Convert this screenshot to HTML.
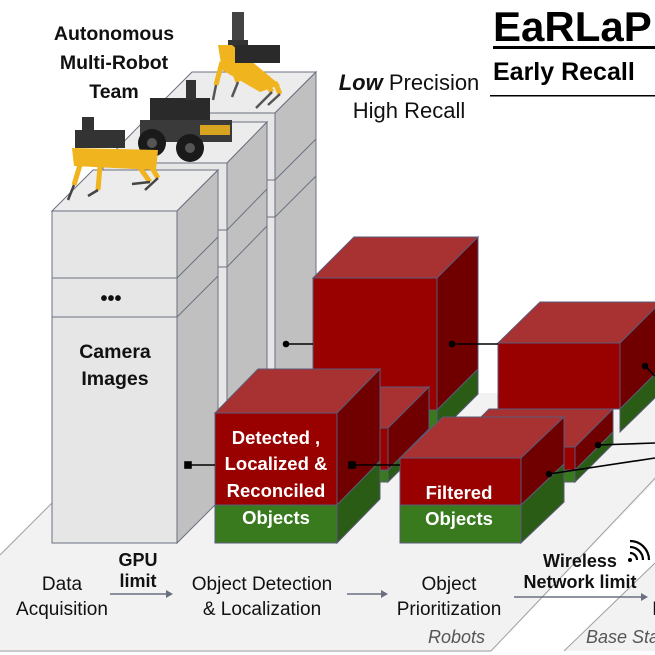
<!DOCTYPE html>
<html><head><meta charset="utf-8"><style>
html,body{margin:0;padding:0;background:#fff}
svg{display:block}
text{font-family:"Liberation Sans",sans-serif}
</style></head><body>
<svg width="655" height="655" viewBox="0 0 655 655" xmlns="http://www.w3.org/2000/svg">
<!-- planes -->
<polygon points="0,555 160,393 740,393 491,651 0,651" fill="#f2f2f2"/>
<line x1="0" y1="555" x2="60" y2="495" stroke="#a0a0a0" stroke-width="1"/>
<line x1="491" y1="651" x2="660" y2="473" stroke="#a0a0a0" stroke-width="1"/>
<polygon points="564,651 655,563 655,651" fill="#f2f2f2"/>
<line x1="564" y1="651" x2="655" y2="563" stroke="#a0a0a0" stroke-width="1"/>
<line x1="0" y1="651" x2="491" y2="651" stroke="#c8c8c8" stroke-width="2"/>

<g stroke="#6b7080" stroke-width="1">
<!-- back column -->
<polygon points="151,113 275,113 316,72 192,72" fill="#ececec"/>
<rect x="151" y="113" width="124" height="332" fill="#e6e6e6"/>
<polygon points="275,113 316,72 316,404 275,445" fill="#c0c0c0"/>
<line x1="151" y1="180" x2="275" y2="180"/><line x1="151" y1="217" x2="275" y2="217"/>
<line x1="275" y1="180" x2="316" y2="139"/><line x1="275" y1="217" x2="316" y2="176"/>
<!-- middle column -->
<polygon points="103,163 227,163 267,122 143,122" fill="#ececec"/>
<rect x="103" y="163" width="124" height="332" fill="#e6e6e6"/>
<polygon points="227,163 267,122 267,454 227,495" fill="#c0c0c0"/>
<line x1="103" y1="230" x2="227" y2="230"/><line x1="103" y1="267" x2="227" y2="267"/>
<line x1="227" y1="230" x2="267" y2="189"/><line x1="227" y1="267" x2="267" y2="226"/>
</g>

<!-- red boxes -->
<g stroke="#5a5a78" stroke-width="1">
<polygon points="313,278 437,278 478,237 354,237" fill="#a83232"/>
<rect x="313" y="278" width="124" height="132" fill="#990000"/>
<rect x="313" y="410" width="124" height="25" fill="#3a7a1e"/>
<polygon points="437,278 478,237 478,369 437,410" fill="#700000"/>
<polygon points="437,410 478,369 478,394 437,435" fill="#2b5c16"/>
<polygon points="498,343 620,343 661,302 540,302" fill="#a83232"/>
<rect x="498" y="343" width="122" height="66" fill="#990000"/>
<polygon points="620,343 661,302 661,368 620,409" fill="#700000"/>
<polygon points="620,409 661,368 661,392 620,432" fill="#2b5c16"/>
<polygon points="264,428 388,428 429,387 305,387" fill="#a83232"/>
<rect x="264" y="428" width="124" height="42" fill="#990000"/>
<rect x="264" y="470" width="124" height="12" fill="#3a7a1e"/>
<polygon points="388,428 429,387 429,429 388,470" fill="#700000"/>
<polygon points="388,470 429,429 429,441 388,482" fill="#2b5c16"/>
<polygon points="451,447 575,447 613,409 489,409" fill="#a83232"/>
<rect x="451" y="447" width="124" height="23" fill="#990000"/>
<rect x="451" y="470" width="124" height="12" fill="#3a7a1e"/>
<polygon points="575,447 613,409 613,432 575,470" fill="#700000"/>
<polygon points="575,470 613,432 613,444 575,482" fill="#2b5c16"/>
</g>

<!-- front column -->
<g stroke="#6b7080" stroke-width="1">
<polygon points="52,211 177,211 218,170 93,170" fill="#ececec"/>
<rect x="52" y="211" width="125" height="332" fill="#e6e6e6"/>
<polygon points="177,211 218,170 218,502 177,543" fill="#c0c0c0"/>
<line x1="52" y1="278" x2="177" y2="278"/><line x1="52" y1="317" x2="177" y2="317"/>
<line x1="177" y1="278" x2="218" y2="237"/><line x1="177" y1="317" x2="218" y2="276"/>
</g>

<g stroke="#5a5a78" stroke-width="1">
<polygon points="215,413 337,413 380,369 258,369" fill="#a83232"/>
<rect x="215" y="413" width="122" height="92" fill="#990000"/>
<rect x="215" y="505" width="122" height="38" fill="#3a7a1e"/>
<polygon points="337,413 380,369 380,461 337,505" fill="#700000"/>
<polygon points="337,505 380,461 380,499 337,543" fill="#2b5c16"/>
<polygon points="400,458 521,458 564,417 443,417" fill="#a83232"/>
<rect x="400" y="458" width="121" height="47" fill="#990000"/>
<rect x="400" y="505" width="121" height="38" fill="#3a7a1e"/>
<polygon points="521,458 564,417 564,464 521,505" fill="#700000"/>
<polygon points="521,505 564,464 564,502 521,543" fill="#2b5c16"/>
</g>

<!-- connectors -->
<g stroke="#000" stroke-width="1.6" fill="#000">
<line x1="188" y1="465" x2="215" y2="465"/><rect x="185" y="462" width="6" height="6"/>
<line x1="352" y1="465" x2="400" y2="465"/><rect x="349" y="462" width="6" height="6"/>
<line x1="286" y1="344" x2="313" y2="344"/><circle cx="286" cy="344" r="2.5"/>
<line x1="452" y1="344" x2="498" y2="344"/><circle cx="452" cy="344" r="2.5"/>
<line x1="598" y1="445" x2="655" y2="443"/><circle cx="598" cy="445" r="2.5"/>
<line x1="549" y1="474" x2="655" y2="458"/><circle cx="549" cy="474" r="2.5"/>
<line x1="645" y1="366" x2="655" y2="376"/><circle cx="645" cy="366" r="2.5"/>
</g>

<!-- robots (simplified) -->
<g>
<rect x="150" y="98" width="60" height="32" fill="#2a2a2a"/>
<rect x="140" y="120" width="92" height="22" fill="#3a3a3a"/>
<rect x="200" y="125" width="30" height="10" fill="#d9a520"/>
<circle cx="152" cy="143" r="14" fill="#1a1a1a"/><circle cx="190" cy="148" r="14" fill="#1a1a1a"/>
<circle cx="152" cy="143" r="5" fill="#555"/><circle cx="190" cy="148" r="5" fill="#555"/>
<rect x="186" y="80" width="10" height="20" fill="#333"/>
<rect x="75" y="130" width="50" height="18" fill="#333"/>
<polygon points="72,148 158,150 156,170 74,166" fill="#f0b41e"/>
<rect x="82" y="117" width="12" height="18" fill="#333"/>
<g stroke="#f0b41e" stroke-width="5" fill="none">
<polyline points="80,165 74,185"/><polyline points="100,166 98,190"/><polyline points="140,168 150,182"/><polyline points="152,168 158,178"/>
</g>
<g stroke="#444" stroke-width="2.5" fill="none">
<polyline points="74,185 68,200"/><polyline points="98,190 88,196"/><polyline points="150,182 132,184"/><polyline points="158,178 145,190"/>
</g>
<rect x="228" y="40" width="20" height="20" fill="#333"/>
<rect x="232" y="12" width="12" height="28" fill="#444"/>
<polygon points="218,45 232,45 262,70 280,85 260,92 222,70" fill="#f0b41e"/>
<rect x="235" y="45" width="45" height="18" fill="#2a2a2a"/>
<g stroke="#f0b41e" stroke-width="5" fill="none">
<polyline points="222,62 216,85"/><polyline points="232,66 238,82"/><polyline points="262,78 272,92"/><polyline points="275,82 280,94"/>
</g>
<g stroke="#555" stroke-width="2.5" fill="none">
<polyline points="216,85 213,100"/><polyline points="238,82 232,97"/><polyline points="272,92 256,108"/><polyline points="280,94 268,105"/>
</g>
</g>

<!-- text -->
<g font-weight="bold" font-size="19.5" text-anchor="middle" fill="#111">
<text x="114" y="40">Autonomous</text>
<text x="114" y="69">Multi-Robot</text>
<text x="114" y="98">Team</text>
<text x="111" y="305" font-size="20">•••</text>
<text x="115" y="358">Camera</text>
<text x="115" y="385">Images</text>
</g>
<g font-weight="bold" font-size="18.5" text-anchor="middle" fill="#fff">
<text x="276" y="444">Detected ,</text>
<text x="276" y="470">Localized  &amp;</text>
<text x="276" y="497">Reconciled</text>
<text x="276" y="524">Objects</text>
<text x="459" y="499">Filtered</text>
<text x="459" y="525">Objects</text>
</g>

<text x="493" y="41" font-size="42" font-weight="bold" fill="#000">EaRLaP</text>
<rect x="493" y="46" width="170" height="3" fill="#000"/>
<text x="493" y="80" font-size="25" font-weight="bold" fill="#000">Early Recall</text>
<rect x="490" y="95" width="170" height="1.5" fill="#000"/>

<text x="409" y="90" font-size="22" text-anchor="middle" fill="#111"><tspan font-weight="bold" font-style="italic">Low</tspan> Precision</text>
<text x="409" y="118" font-size="22" text-anchor="middle" fill="#111">High Recall</text>

<g font-size="19" text-anchor="middle" fill="#111">
<text x="62" y="590">Data</text>
<text x="62" y="615">Acquisition</text>
<text x="262" y="590">Object Detection</text>
<text x="262" y="615">&amp; Localization</text>
<text x="449" y="590">Object</text>
<text x="449" y="615">Prioritization</text>
<text x="658" y="615">F</text>
</g>
<g font-size="18" font-weight="bold" text-anchor="middle" fill="#111">
<text x="138" y="566">GPU</text>
<text x="138" y="587">limit</text>
<text x="580" y="567">Wireless</text>
<text x="580" y="588">Network limit</text>
</g>
<g font-size="18" font-style="italic" fill="#555">
<text x="428" y="643">Robots</text>
<text x="586" y="643">Base Station</text>
</g>
<g stroke="#6b7080" stroke-width="1.5" fill="#6b7080">
<line x1="110" y1="594" x2="168" y2="594"/><polygon points="173,594 166,590 166,598" stroke="none"/>
<line x1="347" y1="594" x2="383" y2="594"/><polygon points="388,594 381,590 381,598" stroke="none"/>
<line x1="514" y1="597" x2="643" y2="597"/><polygon points="648,597 641,593 641,601" stroke="none"/>
</g>
<g fill="none" stroke="#000" stroke-width="2.2">
<circle cx="630" cy="560" r="2" fill="#000" stroke="none"/>
<path d="M630,553 A7,7 0 0 1 637,560"/>
<path d="M630,547 A13,13 0 0 1 643,560"/>
<path d="M630,541 A19,19 0 0 1 649,560"/>
</g>
</svg>
</body></html>
